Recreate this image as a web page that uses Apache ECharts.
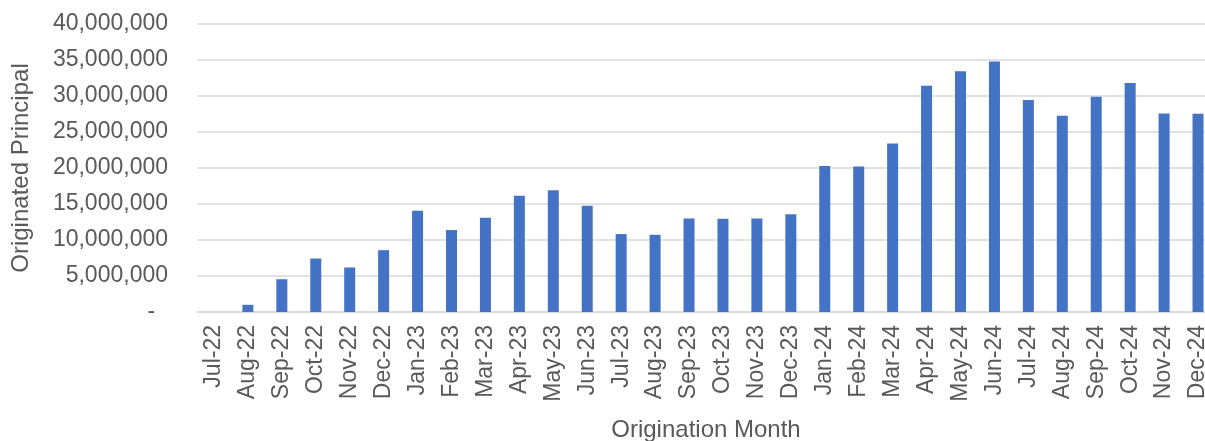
<!DOCTYPE html>
<html>
<head>
<meta charset="utf-8">
<script src="https://cdn.jsdelivr.net/npm/echarts@6/dist/echarts.min.js"></script>
<style>
  html, body { margin: 0; padding: 0; background: #fff; }
  #chart { width: 1205px; height: 441px; }
</style>
</head>
<body>
<div id="chart"></div>
<script>
// 月份
const months = [
  'Jul-22', 'Aug-22', 'Sep-22', 'Oct-22', 'Nov-22', 'Dec-22',
  'Jan-23', 'Feb-23', 'Mar-23', 'Apr-23', 'May-23', 'Jun-23',
  'Jul-23', 'Aug-23', 'Sep-23', 'Oct-23', 'Nov-23', 'Dec-23',
  'Jan-24', 'Feb-24', 'Mar-24', 'Apr-24', 'May-24', 'Jun-24',
  'Jul-24', 'Aug-24', 'Sep-24', 'Oct-24', 'Nov-24', 'Dec-24'
]

// 发放本金
const principal = [
  0, 1000000, 4550000, 7430000, 6180000, 8590000,
  14070000, 11380000, 13090000, 16160000, 16900000, 14760000,
  10820000, 10720000, 13000000, 12950000, 13000000, 13560000,
  20290000, 20200000, 23400000, 31430000, 33430000, 34780000,
  29440000, 27260000, 29900000, 31800000, 27580000, 27550000
]

const yMin = 0
const yMax = 40000000
const yStep = 5000000

const textColor = '#595959'
const gridColor = '#d9d9d9'
const barColor = '#4472c4'
const font = '"Liberation Sans", Arial, sans-serif'

const chart = echarts.init(document.getElementById('chart'))
chart.setOption({
  animation: false,
  textStyle: { fontFamily: font },
  // the plot runs past the right edge, as in the original crop
  grid: { left: 197, top: 24, width: 1018, bottom: 129, outerBoundsMode: 'none' },
  xAxis: {
    type: 'category',
    data: months,
    name: 'Origination Month',
    nameLocation: 'middle',
    nameGap: 106,
    nameTextStyle: { color: textColor, fontSize: 24, fontFamily: font, verticalAlign: 'top' },
    axisLine: { lineStyle: { color: gridColor, width: 1.5 } },
    axisTick: { length: 6, lineStyle: { color: gridColor, width: 1.5 } },
    axisLabel: {
      rotate: 90,
      margin: 13,
      interval: 0,
      color: textColor,
      fontSize: 23,
      fontFamily: font
    }
  },
  yAxis: {
    type: 'value',
    min: yMin,
    max: yMax,
    interval: yStep,
    name: 'Originated Principal',
    nameLocation: 'middle',
    nameGap: 164,
    nameTextStyle: { color: textColor, fontSize: 24, fontFamily: font },
    axisLine: { show: false },
    axisTick: { show: false },
    splitLine: { lineStyle: { color: gridColor, width: 1.5 } },
    axisLabel: {
      margin: 29,
      color: textColor,
      fontSize: 23,
      fontFamily: font,
      formatter: v => v === 0 ? '-  ' : v.toLocaleString('en-US')
    }
  },
  series: [
    {
      type: 'bar',
      data: principal,
      barWidth: 11,
      itemStyle: { color: barColor }
    }
  ]
})
</script>
</body>
</html>
